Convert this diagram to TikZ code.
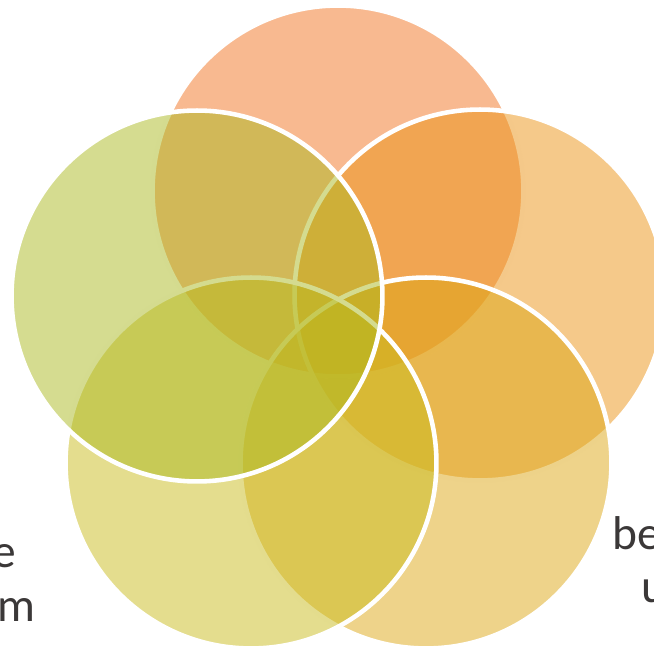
\documentclass[tikz,border=0pt]{standalone}
\usepackage{fontspec}
\setmainfont{Carlito}

\definecolor{ctop}{HTML}{F17321}
\definecolor{cright}{HTML}{EB9315}
\definecolor{cbotright}{HTML}{DDA715}
\definecolor{cbotleft}{HTML}{C9BB1D}
\definecolor{cleft}{HTML}{ABB921}
\definecolor{txtgray}{HTML}{3B3838}

\begin{document}
\begin{tikzpicture}[x=0.02cm, y=-0.02cm,
		petal/.style={circle, draw=white, line width=2.6pt, fill opacity=0.5, minimum size=7.42cm, inner sep=0pt},
		lbl/.style={inner sep=0pt, text=txtgray, font=\fontsize{27}{31}\selectfont}]
			\useasboundingbox (0,0) rectangle (654,651);
			\clip (0,0) rectangle (654,651);

			% five overlapping circles, later ones on top
			\node[petal, fill=ctop] (top) at (338, 191) {};
			\node[petal, fill=cright] (right) at (480, 295) {};
			\node[petal, fill=cbotright] (botright) at (426, 463) {};
			\node[petal, fill=cbotleft] (botleft) at (251, 463) {};
			\node[petal, fill=cleft] (left) at (197, 296) {};

			% labels running off the edges
			\node[lbl, anchor=base east] (lefta) at (16, 568) {e};
			\node[lbl, anchor=base east] (leftb) at (36, 622) {m};
			\node[lbl, anchor=base west] (righta) at (612, 550) {be};
			\node[lbl, anchor=base west] (rightb) at (641, 603) {u};
		\end{tikzpicture}
\end{document}
